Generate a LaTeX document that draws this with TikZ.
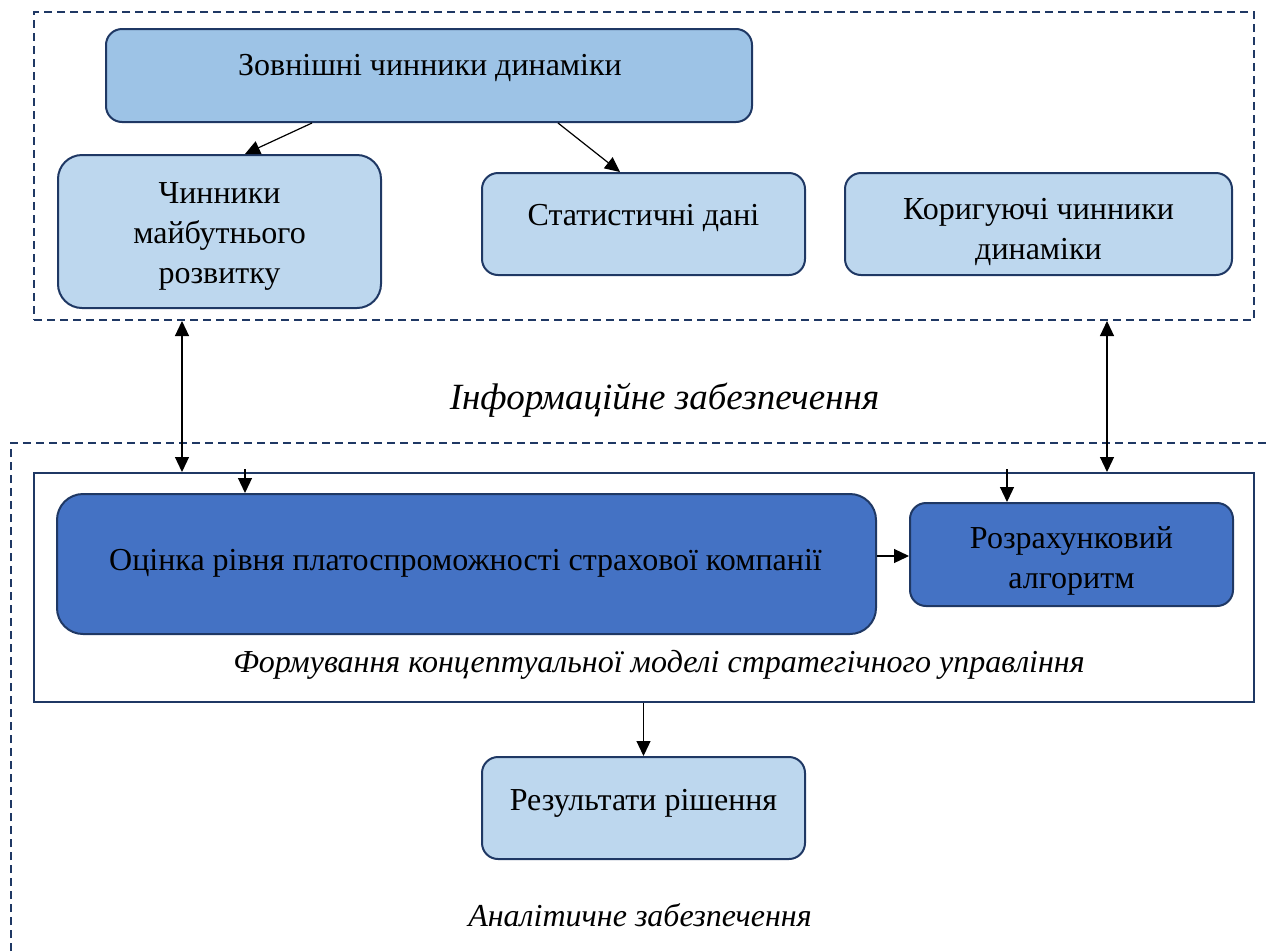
\documentclass[tikz,border=0pt]{standalone}
\usepackage{fontspec}
\setmainfont{Liberation Serif}
\usetikzlibrary{arrows.meta}
\definecolor{navy}{HTML}{1F3864}
\definecolor{lightb}{HTML}{BDD7EE}
\definecolor{midb}{HTML}{9DC3E6}
\definecolor{darkb}{HTML}{4472C4}
\tikzset{
  boxbase/.style={draw=navy, line width=2pt, inner sep=0pt, rectangle},
  lightbox/.style={boxbase, fill=lightb, rounded corners=16pt},
  midbox/.style={boxbase, fill=midb, rounded corners=16pt},
  darkbox/.style={boxbase, fill=darkb, rounded corners=18pt},
  dashbox/.style={draw=navy, line width=2pt, dash pattern=on 8pt off 5pt, inner sep=0pt, rectangle},
  framebox/.style={draw=navy, line width=2pt, inner sep=0pt, rectangle},
  txt/.style={font=\fontsize{32}{40}\selectfont, align=center, inner sep=0pt, anchor=base},
  itxt/.style={font=\fontsize{32}{38}\selectfont\itshape, inner sep=0pt, anchor=base},
  arr/.style={-{Triangle[length=15pt,width=14pt]}, line width=1.2pt, black},
  dbl/.style={{Triangle[length=15pt,width=14pt]}-{Triangle[length=15pt,width=14pt]}, line width=1.2pt, black},
}
\begin{document}
\begin{tikzpicture}[x=1pt,y=-1pt]
\useasboundingbox (0,0) rectangle (1268,951);
% top dashed frame
\node[dashbox, minimum width=1220pt, minimum height=308pt] (top) at (644,166) {};
% boxes top
\node[midbox, minimum width=646pt, minimum height=93pt] (ext) at (429,75.5) {};
\node[txt] (exttxt) at (430,75) {Зовнішні чинники динаміки};
\node[lightbox, rounded corners=24pt, minimum width=323pt, minimum height=153pt] (fut) at (219.5,231.5) {};
\node[txt] (futtxt) at (219.5,283) {Чинники\\майбутнього\\розвитку};
\node[lightbox, minimum width=323pt, minimum height=102pt] (stat) at (643.5,224) {};
\node[txt] (stattxt) at (643.5,225) {Статистичні дані};
\node[lightbox, minimum width=387pt, minimum height=102pt] (cor) at (1038.5,224) {};
\node[txt] (cortxt) at (1038.5,259) {Коригуючі чинники\\динаміки};
\draw[arr] ([xshift=-117pt]ext.south) -- ([xshift=25.5pt]fut.north);
\draw[arr] ([xshift=129pt]ext.south) -- ([xshift=-23.5pt]stat.north);
% middle label
\node[itxt, font=\fontsize{37}{44}\selectfont\itshape] (info) at (664.5,409) {Інформаційне забезпечення};
% bottom dashed frame (open to the right and bottom)
\coordinate (bl) at (11,951);
\coordinate (tl) at (11,443);
\coordinate (tr) at (1268,443);
\draw[draw=navy, line width=2pt, dash pattern=on 8pt off 5pt] (bl) -- (tl) -- (tr);
% model frame
\node[framebox, minimum width=1220pt, minimum height=229pt] (model) at (644,587.5) {};
\node[darkbox, rounded corners=26pt, minimum width=819pt, minimum height=140pt] (est) at (466.5,564) {};
\node[txt] (esttxt) at (465.5,570) {Оцінка рівня платоспроможності страхової компанії};
\node[darkbox, rounded corners=16pt, minimum width=323pt, minimum height=103pt] (alg) at (1071.5,554.5) {};
\node[txt] (algtxt) at (1071.5,588) {Розрахунковий\\алгоритм};
\node[itxt] (modeltxt) at (659,672) {Формування концептуальної моделі стратегічного управління};
% double arrows
\draw[dbl] ([xshift=-462pt]top.south) -- ([xshift=-462pt]model.north);
\draw[dbl] ([xshift=463pt]top.south) -- ([xshift=463pt]model.north);
% small arrows into boxes
\path ([xshift=-221.5pt]est.north) coordinate (e1);
\draw[arr] ([yshift=3pt]e1 |- model.north) -- (e1);
\path ([xshift=-64.5pt]alg.north) coordinate (a1);
\draw[arr] ([yshift=3pt]a1 |- model.north) -- (a1);
\draw[arr] (est.east |- 0,556) -- (alg.west |- 0,556);
% result
\node[lightbox, minimum width=323pt, minimum height=102pt] (res) at (643.5,808) {};
\node[txt] (restxt) at (643.5,810) {Результати рішення};
\draw[arr] (model.south -| res.north) -- (res.north);
\node[itxt] (anal) at (640,926) {Аналітичне забезпечення};
\end{tikzpicture}
\end{document}
